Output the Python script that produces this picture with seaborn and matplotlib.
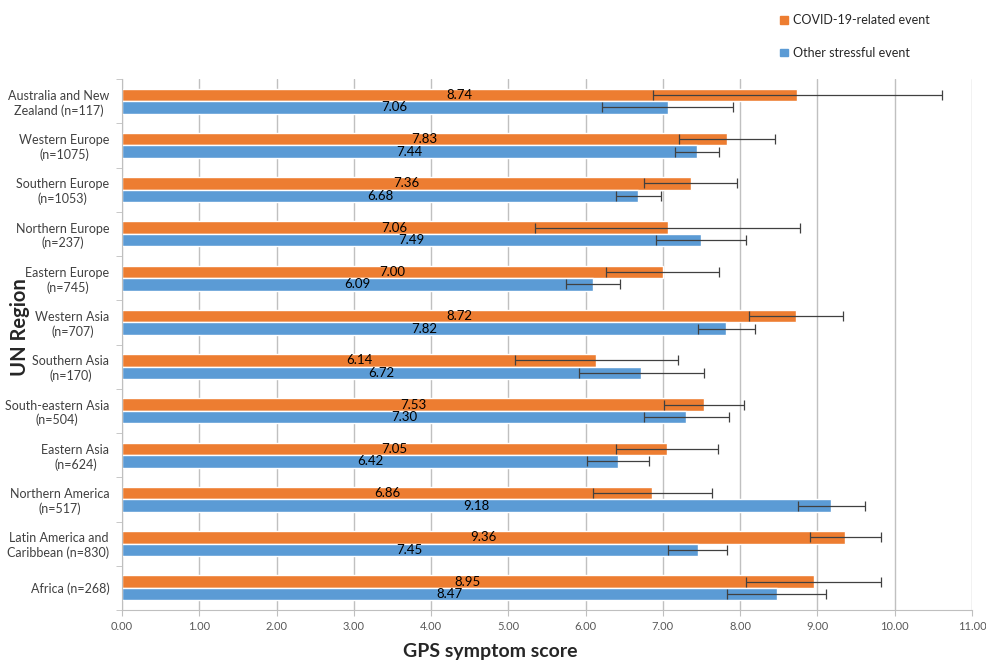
import numpy as np
import pandas as pd
import matplotlib
matplotlib.use('Agg')
import matplotlib.pyplot as plt
from matplotlib.patches import Patch
import seaborn as sns

regions = ['Australia and New\nZealand (n=117)', 'Western Europe\n(n=1075)',
           'Southern Europe\n(n=1053)', 'Northern Europe\n(n=237)',
           'Eastern Europe\n(n=745)', 'Western Asia\n(n=707)',
           'Southern Asia\n(n=170)', 'South-eastern Asia\n(n=504)',
           'Eastern Asia\n(n=624)', 'Northern America\n(n=517)',
           'Latin America and\nCaribbean (n=830)', 'Africa (n=268)']
covid = [8.74, 7.83, 7.36, 7.06, 7.00, 8.72, 6.14, 7.53, 7.05, 6.86, 9.36, 8.95]
other = [7.06, 7.44, 6.68, 7.49, 6.09, 7.82, 6.72, 7.30, 6.42, 9.18, 7.45, 8.47]
covid_err = [1.87, 0.62, 0.60, 1.71, 0.73, 0.61, 1.05, 0.52, 0.66, 0.77, 0.46, 0.87]
other_err = [0.85, 0.29, 0.29, 0.58, 0.35, 0.37, 0.81, 0.55, 0.40, 0.43, 0.38, 0.64]
events = ['COVID-19-related event', 'Other stressful event']
colors = ['#ED7D31', '#5B9BD5']

df = pd.DataFrame({'region': regions * 2,
                   'score': covid + other,
                   'event': [events[0]] * len(regions) + [events[1]] * len(regions)})

sns.set_style('white')
plt.rcParams['font.family'] = ['Lato', 'DejaVu Sans']

fig = plt.figure(figsize=(9.87, 6.64), dpi=100)
ax = fig.add_axes([122 / 987, 1 - 610 / 664, 850 / 987, 531 / 664])

sns.barplot(data=df, y='region', x='score', hue='event', hue_order=events,
            order=regions, orient='h', width=0.57, palette=colors,
            saturation=1, errorbar=None, legend=False, ax=ax)

# error bars + centred value labels
for cont, vals, errs in zip(ax.containers, [covid, other], [covid_err, other_err]):
    ys = [p.get_y() + p.get_height() / 2 for p in cont.patches]
    ax.errorbar(vals, ys, xerr=errs, fmt='none', ecolor='#404040',
                elinewidth=0.9, capsize=3.5, capthick=0.9)
    ax.bar_label(cont, labels=[f'{v:.2f}' for v in vals], label_type='center',
                 fontsize=9.5, color='black')

ax.set_xlim(0, 11)
ax.set_xticks(np.arange(0, 12, 1))
ax.set_xticklabels([f'{v:.2f}' for v in np.arange(0, 12, 1)], fontsize=8, color='#595959')
ax.xaxis.grid(True, color='#C0C0C0', lw=1)
ax.set_axisbelow(True)

ax.set_yticks(np.arange(-0.5, len(regions), 1), minor=True)
ax.set_ylim(len(regions) - 0.5, -0.5)
ax.tick_params(axis='y', which='major', length=0, pad=9, labelsize=9, labelcolor='#404040')
ax.tick_params(axis='y', which='minor', length=4, color='#BFBFBF', left=True)
ax.tick_params(axis='x', which='major', length=4, color='#BFBFBF', bottom=True, pad=4)
for t in ax.get_yticklabels():
    t.set_multialignment('center')

for s in ['top', 'right']:
    ax.spines[s].set_visible(False)
for s in ['left', 'bottom']:
    ax.spines[s].set_color('#BFBFBF')
ax.set_xlabel('')
ax.set_ylabel('')

fig.text(20 / 987, 1 - 327 / 664, 'UN Region', rotation=90, ha='center', va='center',
         fontsize=14.5, fontweight='bold')
fig.text(490 / 987, 1 - 651 / 664, 'GPS symptom score', ha='center', va='center',
         fontsize=14, fontweight='bold')

handles = [Patch(color=c, label=e) for c, e in zip(colors, events)]
fig.legend(handles=handles, loc='upper left', bbox_to_anchor=(774 / 987, 1 - 8 / 664),
           frameon=False, fontsize=9, handlelength=0.6, handleheight=0.6,
           handletextpad=0.4, labelspacing=1.65, borderpad=0)

fig.savefig('out.png', dpi=100)
